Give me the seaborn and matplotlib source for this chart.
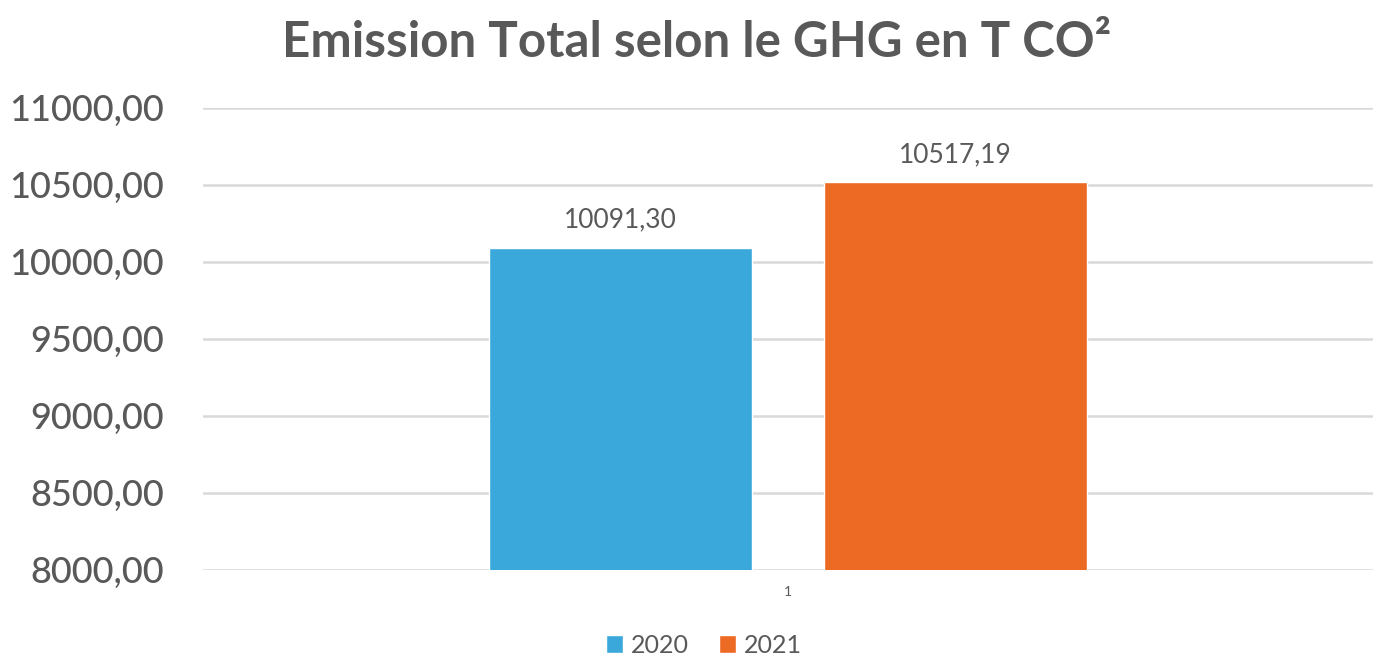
import matplotlib
matplotlib.use("Agg")
import matplotlib.pyplot as plt
import seaborn as sns
import pandas as pd
from matplotlib.ticker import FuncFormatter, MultipleLocator

categories = ["1", "1"]
years = ["2020", "2021"]
values = [10091.30, 10517.19]
colors = ["#3BA8DC", "#EC6A24"]

df = pd.DataFrame({"cat": categories, "year": years, "value": values})

sns.set_theme(style="white")
plt.rcParams["font.family"] = ["Lato", "DejaVu Sans"]
grey = "#595959"

fig = plt.figure(figsize=(13.8, 6.61), dpi=100)
ax = fig.add_axes([0.147, 0.138, 0.848, 0.699])

sns.barplot(data=df, x="cat", y="value", hue="year", palette=colors,
            width=0.572, gap=0.214, ax=ax, legend=True, saturation=1)

ax.set_ylim(8000, 11000)
ax.set_xlim(-0.5, 0.5)
ax.yaxis.set_major_locator(MultipleLocator(500))
ax.yaxis.set_major_formatter(FuncFormatter(lambda v, p: f"{v:.2f}".replace(".", ",")))
ax.grid(axis="y", color="#D9D9D9", lw=1.8)
ax.set_axisbelow(True)
for s in ax.spines.values():
    s.set_visible(False)
ax.tick_params(axis="y", labelsize=26, colors=grey, length=0, pad=28)
ax.tick_params(axis="x", labelsize=10, colors=grey, length=0, pad=12)
for t in ax.get_yticklabels():
    t.set_fontweight("medium")
ax.set_xlabel("")
ax.set_ylabel("")

for cont in ax.containers:
    ax.bar_label(cont, labels=[f"{v:.2f}".replace(".", ",") for v in cont.datavalues],
                 fontsize=19, color=grey, padding=11)

h, l = ax.get_legend_handles_labels()
ax.get_legend().remove()
fig.legend(h, l, loc="center", bbox_to_anchor=(0.51, 0.024), ncol=2, frameon=False,
           fontsize=18, labelcolor=grey, handlelength=0.7, handleheight=0.7,
           handletextpad=0.3, columnspacing=1.2)

fig.text(0.505, 0.935, "Emission Total selon le GHG en T CO²", ha="center", va="center",
         fontsize=35.5, fontweight="bold", color=grey)

fig.savefig("out.png", dpi=100, facecolor="white")
